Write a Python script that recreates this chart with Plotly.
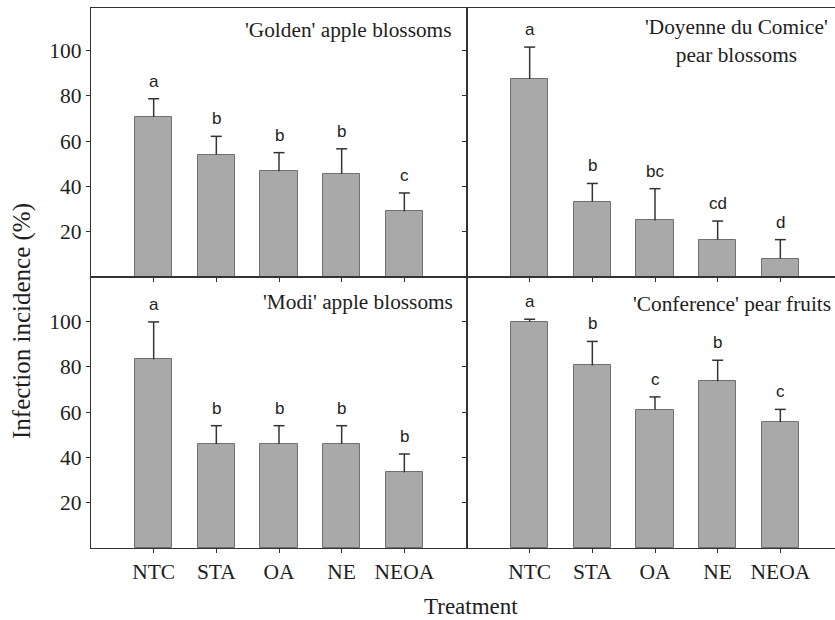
import plotly.graph_objects as go

W, H = 835, 620

treatments = ["NTC", "STA", "OA", "NE", "NEOA"]
positions = [1, 2, 3, 4, 5]

golden_mean = [70.6, 54.0, 46.7, 45.6, 29.0]
golden_err = [8.1, 8.1, 8.2, 11.0, 8.1]
golden_letters = ["a", "b", "b", "b", "c"]

comice_mean = [87.4, 33.2, 25.0, 16.5, 8.1]
comice_err = [14.1, 8.1, 14.0, 8.2, 8.4]
comice_letters = ["a", "b", "bc", "cd", "d"]

modi_mean = [83.3, 45.9, 45.9, 45.9, 33.4]
modi_err = [16.5, 8.1, 8.1, 8.1, 8.1]
modi_letters = ["a", "b", "b", "b", "b"]

conference_mean = [100.0, 80.6, 61.1, 73.6, 55.6]
conference_err = [1.0, 10.6, 5.6, 9.3, 5.6]
conference_letters = ["a", "b", "c", "b", "c"]

panel_titles = [
    "'Golden' apple blossoms",
    "'Doyenne du Comice'<br>pear blossoms",
    "'Modi' apple blossoms",
    "'Conference' pear fruits",
]

y_ticks = [20, 40, 60, 80, 100]

SERIF = "Liberation Serif, Times New Roman, serif"
SANS = "Liberation Sans, Arial, sans-serif"
BAR_FILL = "#a9a9a9"
BAR_EDGE = "#707070"
INK = "#333333"
TEXT = "#1e1e1e"

# pixel geometry of the 2x2 grid
x_left, x_mid, x_right = 91, 467, 835
y_top, y_mid, y_bot = 8, 277, 548
slot = (x_mid - x_left) / 6.0
cap_half = 5.5 / slot  # half width of the error-bar caps, in category units


def px_x(v):
    return v / W


def px_y(v):
    return 1 - v / H


panels = [
    dict(mean=golden_mean, err=golden_err, letters=golden_letters, ax="", col=0, row=0),
    dict(mean=comice_mean, err=comice_err, letters=comice_letters, ax="2", col=1, row=0),
    dict(mean=modi_mean, err=modi_err, letters=modi_letters, ax="3", col=0, row=1),
    dict(mean=conference_mean, err=conference_err, letters=conference_letters, ax="4", col=1, row=1),
]

fig = go.Figure()
annotations = []
layout = {}

for p in panels:
    xa = "x" + p["ax"]
    ya = "y" + p["ax"]
    fig.add_trace(go.Bar(
        x=positions, y=p["mean"], xaxis=xa, yaxis=ya, width=0.6,
        marker=dict(color=BAR_FILL, line=dict(color=BAR_EDGE, width=1)),
        showlegend=False, hoverinfo="skip",
    ))
    # upper-only error whiskers with a cap
    wx, wy = [], []
    for xv, m, e in zip(positions, p["mean"], p["err"]):
        wx += [xv, xv, None, xv - cap_half, xv + cap_half, None]
        wy += [m, m + e, None, m + e, m + e, None]
    fig.add_trace(go.Scatter(
        x=wx, y=wy, xaxis=xa, yaxis=ya, mode="lines",
        line=dict(color=INK, width=1.5), showlegend=False, hoverinfo="skip",
    ))
    for xv, m, e, lt in zip(positions, p["mean"], p["err"], p["letters"]):
        annotations.append(dict(
            x=xv, y=m + e, xref=xa, yref=ya, text=lt, showarrow=False,
            yanchor="bottom", yshift=6,
            font=dict(family=SANS, size=17, color=TEXT),
        ))

    if p["col"] == 0:
        xdom = [px_x(x_left), px_x(x_mid)]
        xrange = [0, 6]
    else:
        xdom = [px_x(x_mid), 1.0]
        xrange = [0, (x_right - x_mid) / slot]
    if p["row"] == 0:
        ydom = [px_y(y_mid), px_y(y_top)]
        yrange = [0, (y_mid - y_top) / ((y_mid - 50.5) / 100)]
    else:
        ydom = [px_y(y_bot), px_y(y_mid)]
        yrange = [0, (y_bot - y_mid) / ((y_mid - 50.5) / 100)]

    xkey = "xaxis" + p["ax"]
    ykey = "yaxis" + p["ax"]
    layout[xkey] = dict(
        domain=xdom, range=xrange, anchor=ya,
        tickmode="array", tickvals=positions, ticktext=treatments,
        showticklabels=(p["row"] == 1),
        ticks="outside", ticklen=4, tickwidth=1.3, tickcolor=INK,
        showline=True, linecolor=INK, linewidth=1.4, mirror=True,
        showgrid=False, zeroline=False, fixedrange=True,
        tickfont=dict(family=SERIF, size=21.5, color=TEXT),
    )
    layout[ykey] = dict(
        domain=ydom, range=yrange, anchor=xa,
        tickmode="array", tickvals=y_ticks,
        showticklabels=(p["col"] == 0),
        ticksuffix="\u2002",
        ticks="outside", ticklen=4, tickwidth=1.3, tickcolor=INK,
        showline=True, linecolor=INK, linewidth=1.4, mirror=(p["col"] == 0),
        showgrid=False, zeroline=False, fixedrange=True,
        tickfont=dict(family=SERIF, size=21.5, color=TEXT),
    )

# panel headings
title_font = dict(family=SERIF, size=21.3, color=TEXT)
annotations += [
    dict(x=px_x(453), y=px_y(30), xref="paper", yref="paper", text=panel_titles[0],
         xanchor="right", yanchor="middle", showarrow=False, font=title_font),
    dict(x=px_x(736), y=px_y(41), xref="paper", yref="paper", text=panel_titles[1],
         xanchor="center", yanchor="middle", align="center", showarrow=False, font=title_font),
    dict(x=px_x(455), y=px_y(302), xref="paper", yref="paper", text=panel_titles[2],
         xanchor="right", yanchor="middle", showarrow=False, font=title_font),
    dict(x=px_x(833), y=px_y(304), xref="paper", yref="paper", text=panel_titles[3],
         xanchor="right", yanchor="middle", showarrow=False, font=title_font),
]

# shared axis titles
annotations += [
    dict(x=px_x(22), y=px_y(321), xref="paper", yref="paper", text="Infection incidence (%)",
         textangle=-90, showarrow=False, xanchor="center", yanchor="middle",
         font=dict(family=SERIF, size=25, color=TEXT)),
    dict(x=px_x(471), y=px_y(606), xref="paper", yref="paper", text="Treatment",
         showarrow=False, xanchor="center", yanchor="middle",
         font=dict(family=SERIF, size=23, color=TEXT)),
]

fig.update_layout(
    width=W, height=H,
    margin=dict(l=0, r=0, t=0, b=0),
    paper_bgcolor="white", plot_bgcolor="white",
    bargap=0, annotations=annotations,
    **layout,
)

fig.write_html("out.html")
